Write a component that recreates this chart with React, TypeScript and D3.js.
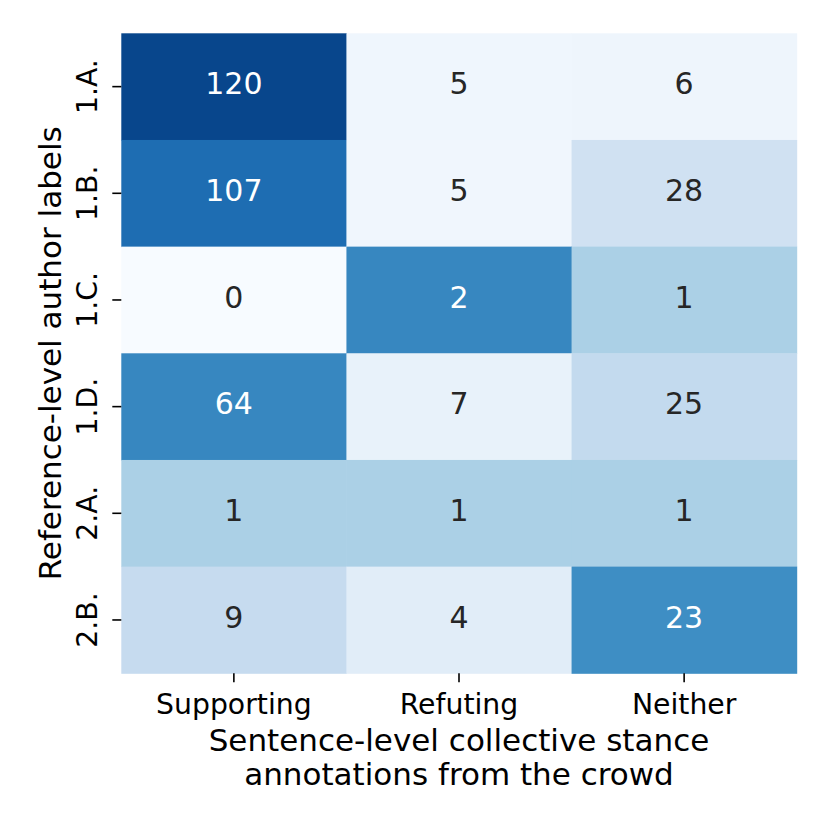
import React from "react";
import * as d3 from "d3";

const rowLabels = ["1.A.", "1.B.", "1.C.", "1.D.", "2.A.", "2.B."];
const colLabels = ["Supporting", "Refuting", "Neither"];
const counts: number[][] = [
  [120, 5, 6],
  [107, 5, 28],
  [0, 2, 1],
  [64, 7, 25],
  [1, 1, 1],
  [9, 4, 23],
];
const blueStops = ["#f7fbff", "#deebf7", "#c6dbef", "#9ecae1", "#6baed6", "#4292c6", "#2171b5", "#08519c", "#08306b"];

const FONT = "DejaVu Sans, sans-serif";

function luminance(c: string) {
  const rgb = d3.rgb(c);
  const f = (v: number) => {
    const s = v / 255;
    return s <= 0.03928 ? s / 12.92 : Math.pow((s + 0.055) / 1.055, 2.4);
  };
  return 0.2126 * f(rgb.r) + 0.7152 * f(rgb.g) + 0.0722 * f(rgb.b);
}

export default function App() {
  const left = 121.3, right = 796.7, top = 33.3, bottom = 673.3;
  const x = d3.scaleBand<string>().domain(colLabels).range([left, right]);
  const y = d3.scaleBand<string>().domain(rowLabels).range([top, bottom]);
  const color = d3
    .scaleLinear<string>()
    .domain(blueStops.map((_, i) => i / (blueStops.length - 1)))
    .range(blueStops)
    .interpolate(d3.interpolateRgb)
    .clamp(true);

  const cells: { r: string; c: string; v: number; p: number }[] = [];
  counts.forEach((row, i) => {
    const total = d3.sum(row);
    row.forEach((v, j) => {
      cells.push({ r: rowLabels[i], c: colLabels[j], v, p: total ? v / total : 0 });
    });
  });

  return (
    <svg width={830} height={830} style={{ position: "absolute", left: 0, top: 0, background: "#fff" }} fontFamily={FONT}>
      <rect width={830} height={830} fill="#fff" />
      {cells.map((d, k) => {
        const fill = color(d.p);
        const tc = luminance(fill) > 0.408 ? "#262626" : "#ffffff";
        return (
          <g key={k}>
            <rect x={x(d.c)!} y={y(d.r)!} width={x.bandwidth() + 0.5} height={y.bandwidth() + 0.5} fill={fill} />
            <text
              x={x(d.c)! + x.bandwidth() / 2}
              y={y(d.r)! + y.bandwidth() / 2 + 7.8}
              textAnchor="middle"
              fontSize={30}
              fill={tc}
            >
              {d.v}
            </text>
          </g>
        );
      })}
      {colLabels.map((c) => {
        const cx = x(c)! + x.bandwidth() / 2;
        return (
          <g key={c}>
            <line x1={cx} x2={cx} y1={bottom} y2={bottom + 9} stroke="#000" strokeWidth={1.6} />
            <text x={cx} y={714} textAnchor="middle" fontSize={28.3} fill="#000">
              {c}
            </text>
          </g>
        );
      })}
      {rowLabels.map((r) => {
        const cy = y(r)! + y.bandwidth() / 2;
        return (
          <g key={r}>
            <line x1={left - 9} x2={left} y1={cy} y2={cy} stroke="#000" strokeWidth={1.6} />
            <text transform={`translate(97,${cy}) rotate(-90)`} textAnchor="middle" fontSize={28.3} fill="#000">
              {r}
            </text>
          </g>
        );
      })}
      <text x={(left + right) / 2} y={751} textAnchor="middle" fontSize={31} fill="#000">
        Sentence-level collective stance
      </text>
      <text x={(left + right) / 2} y={785} textAnchor="middle" fontSize={31} fill="#000">
        annotations from the crowd
      </text>
      <text transform={`translate(61,${(top + bottom) / 2}) rotate(-90)`} textAnchor="middle" fontSize={31} fill="#000">
        Reference-level author labels
      </text>
    </svg>
  );
}
